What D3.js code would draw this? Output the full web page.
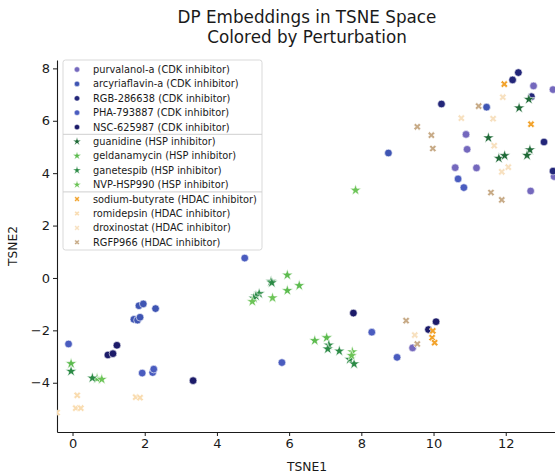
<!DOCTYPE html>
<html>
<head>
<meta charset="utf-8">
<script src="https://cdn.jsdelivr.net/npm/d3@7"></script>
<style>
  html, body { margin: 0; padding: 0; background: #fff; }
  svg { display: block; font-family: "DejaVu Sans", sans-serif; }
</style>
</head>
<body>
<svg id="chart" width="555" height="474"></svg>
<script>
// Perturbations, grouped by mechanism
const drugs = [
  "purvalanol-a", "arcyriaflavin-a", "RGB-286638", "PHA-793887", "NSC-625987",
  "guanidine", "geldanamycin", "ganetespib", "NVP-HSP990",
  "sodium-butyrate", "romidepsin", "droxinostat", "RGFP966"
];
const mechanisms = [
  "CDK inhibitor", "CDK inhibitor", "CDK inhibitor", "CDK inhibitor", "CDK inhibitor",
  "HSP inhibitor", "HSP inhibitor", "HSP inhibitor", "HSP inhibitor",
  "HDAC inhibitor", "HDAC inhibitor", "HDAC inhibitor", "HDAC inhibitor"
];

// TSNE coordinates [TSNE1, TSNE2] per perturbation
const purvalanolA = [[12.77,7.33],[13.31,7.19],[10.90,5.48],[10.93,4.91],[10.60,4.21],[11.19,4.20],[12.69,3.32],[13.34,3.87],[9.42,-2.67]];
const arcyriaflavinA = [[1.84,-1.06],[1.96,-0.99],[2.30,-1.17],[1.70,-1.58],[1.80,-1.61],[1.87,-1.50],[8.75,4.77],[11.47,6.52]];
const rgb286638 = [[12.35,7.84],[12.19,7.56],[12.71,6.92],[10.22,6.64],[13.06,5.19],[13.31,4.08]];
const pha793887 = [[-0.11,-2.52],[1.93,-3.63],[2.22,-3.61],[2.25,-3.48],[4.77,0.76],[8.29,-2.07],[8.99,-3.03],[5.80,-3.23],[10.68,3.78],[10.84,3.45]];
const nsc625987 = [[7.78,-1.34],[10.07,-1.67],[9.86,-1.97],[1.23,-2.57],[0.98,-2.94],[1.12,-2.89],[3.34,-3.92]];
const guanidine = [[12.64,6.82],[12.37,6.49],[11.52,5.35],[11.81,4.57],[11.97,4.67],[12.67,4.89],[12.59,4.68]];
const geldanamycin = [[5.95,0.11],[6.28,-0.29],[5.95,-0.48],[6.71,-2.39],[7.04,-2.28],[-0.04,-3.27],[0.68,-3.84]];
const ganetespib = [[5.50,-0.13],[5.52,-0.18],[5.17,-0.60],[5.08,-0.69],[5.02,-0.77],[7.10,-2.56],[7.07,-2.71],[7.39,-2.79],[7.68,-3.11],[7.80,-3.28],[-0.04,-3.56],[0.55,-3.82]];
const nvpHsp990 = [[7.84,3.35],[5.54,-0.76],[4.98,-0.90],[7.75,-2.82],[7.73,-2.96],[0.81,-3.87]];
const sodiumButyrate = [[11.96,7.40],[12.70,5.87],[9.98,-2.02],[9.96,-2.28],[10.03,-2.47]];
const romidepsin = [[0.13,-4.48],[0.09,-4.97],[0.23,-4.97],[1.75,-4.55],[1.87,-4.57],[-0.43,-5.14]];
const droxinostat = [[11.92,6.90],[10.77,6.10],[11.65,6.08],[11.68,5.05],[12.07,4.23],[11.89,4.05],[9.48,-2.18]];
const rgfp966 = [[11.25,6.56],[9.55,5.77],[9.94,5.45],[9.98,4.94],[11.59,3.26],[11.89,2.98],[9.24,-1.63],[9.55,-2.52]];

const seriesPoints = [
  purvalanolA, arcyriaflavinA, rgb286638, pha793887, nsc625987,
  guanidine, geldanamycin, ganetespib, nvpHsp990,
  sodiumButyrate, romidepsin, droxinostat, rgfp966
];

const xTicks = [0, 2, 4, 6, 8, 10, 12];
const yTicks = [-4, -2, 0, 2, 4, 6, 8];

// Styling
const colors = [
  "#7468bd", "#3f55b3", "#232679", "#4a5cbf", "#1c1b69",
  "#1f6a37", "#5cbb4e", "#2b8a45", "#6cc457",
  "#f2a22a", "#f9dcb0", "#f7e0bf", "#c7aa86"
];
const mechanismShape = {
  "CDK inhibitor": d3.symbolCircle,
  "HSP inhibitor": d3.symbolStar,
  "HDAC inhibitor": d3.symbolCross
};

const svg = d3.select("#chart");
const plot = { left: 57, right: 557, top: 60, bottom: 432 };

const x = d3.scaleLinear().domain([-0.43, 13.42]).range([plot.left, plot.right]);
const y = d3.scaleLinear().domain([-5.88, 8.32]).range([plot.bottom, plot.top]);

// Title
const title = svg.append("text")
  .attr("text-anchor", "middle")
  .attr("font-size", 16.8).attr("fill", "#1a1a1a");
title.append("tspan").attr("x", 307).attr("y", 23).text("DP Embeddings in TSNE Space");
title.append("tspan").attr("x", 307).attr("y", 43).text("Colored by Perturbation");

// Clip region for marks
svg.append("clipPath").attr("id", "plot-clip")
  .append("rect")
  .attr("x", plot.left).attr("y", plot.top)
  .attr("width", plot.right - plot.left).attr("height", plot.bottom - plot.top);

const fmt = d => d3.format("d")(d).replace("-", "\u2212");

// Axes
const xAxis = svg.append("g")
  .attr("transform", `translate(0,${plot.bottom})`)
  .call(d3.axisBottom(x).tickValues(xTicks).tickFormat(fmt)
    .tickSize(4).tickSizeOuter(0).tickPadding(3));
const yAxis = svg.append("g")
  .attr("transform", `translate(${plot.left},0)`)
  .call(d3.axisLeft(y).tickValues(yTicks).tickFormat(fmt)
    .tickSize(4).tickSizeOuter(0).tickPadding(3));
[xAxis, yAxis].forEach(g => {
  g.selectAll("text").attr("font-size", 13).attr("fill", "#1a1a1a")
    .attr("font-family", "DejaVu Sans, sans-serif");
  g.selectAll("line").attr("stroke", "#1a1a1a");
  g.select(".domain").attr("stroke", "#1a1a1a").attr("stroke-width", 1.1);
});

// Axis titles
svg.append("text").attr("x", 307).attr("y", 471)
  .attr("text-anchor", "middle").attr("font-size", 12.3).attr("fill", "#1a1a1a").text("TSNE1");
svg.append("text").attr("transform", `translate(17,${(plot.top + plot.bottom) / 2}) rotate(-90)`)
  .attr("text-anchor", "middle").attr("font-size", 12.3).attr("fill", "#1a1a1a").text("TSNE2");

// Scatter marks
function shapePath(i, size) {
  return d3.symbol().type(mechanismShape[mechanisms[i]]).size(size)();
}
const marks = svg.append("g").attr("clip-path", "url(#plot-clip)");
seriesPoints.forEach((pts, i) => {
  const m = mechanisms[i];
  const size = m === "CDK inhibitor" ? 46 : m === "HSP inhibitor" ? 40 : 32;
  const rot = m === "HDAC inhibitor" ? 45 : 0;
  marks.append("g").selectAll("path").data(pts).join("path")
    .attr("d", shapePath(i, size))
    .attr("transform", d => `translate(${x(d[0])},${y(d[1])}) rotate(${rot})`)
    .attr("fill", colors[i])
    .attr("stroke", "#fff").attr("stroke-width", 0.6);
});

// Legend
const legend = svg.append("g");
const lg = { x: 63, y: 60, w: 199, h: 190, row: 14.4, first: 69.5 };
legend.append("rect")
  .attr("x", lg.x).attr("y", lg.y).attr("width", lg.w).attr("height", lg.h)
  .attr("rx", 2.5).attr("fill", "#fff").attr("fill-opacity", 0.85)
  .attr("stroke", "#d9d9d9").attr("stroke-width", 1);

drugs.forEach((name, i) => {
  const cy = lg.first + i * lg.row;
  const m = mechanisms[i];
  const size = m === "CDK inhibitor" ? 22 : m === "HSP inhibitor" ? 20 : 16;
  const rot = m === "HDAC inhibitor" ? 45 : 0;
  legend.append("path")
    .attr("d", shapePath(i, size))
    .attr("transform", `translate(77,${cy}) rotate(${rot})`)
    .attr("fill", colors[i]).attr("stroke", "#fff").attr("stroke-width", 0.4);
  legend.append("text")
    .attr("x", 93).attr("y", cy).attr("dy", "0.35em")
    .attr("font-size", 9.8).attr("fill", "#1a1a1a")
    .text(`${name} (${m})`);
  // divider between mechanism groups
  if (i > 0 && mechanisms[i] !== mechanisms[i - 1]) {
    legend.append("line")
      .attr("x1", lg.x).attr("x2", lg.x + lg.w)
      .attr("y1", cy - lg.row / 2).attr("y2", cy - lg.row / 2)
      .attr("stroke", "#cfcfcf").attr("stroke-width", 1);
  }
});
</script>
</body>
</html>
